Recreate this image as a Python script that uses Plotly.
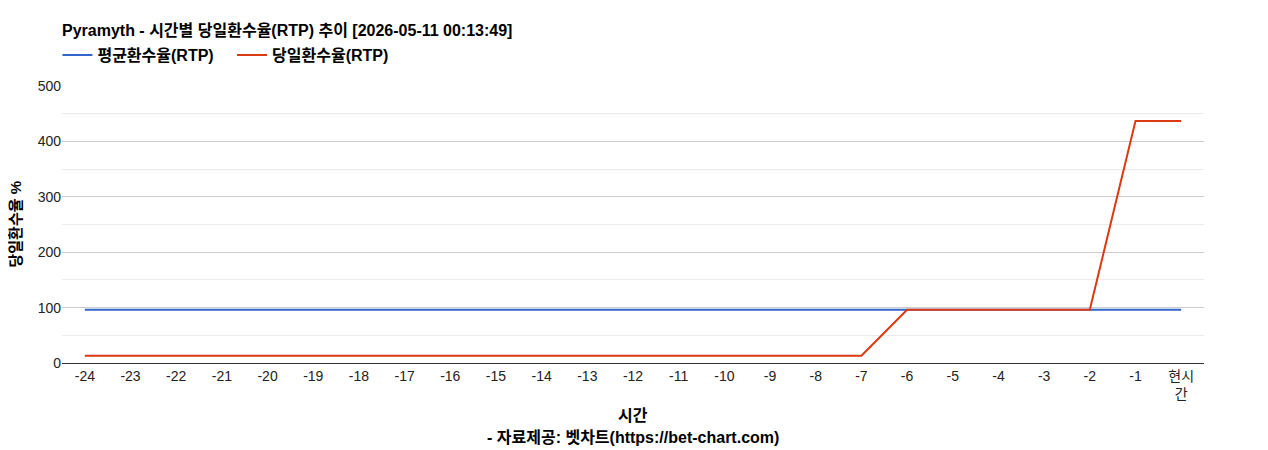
import plotly.graph_objects as go

hours = ["-24", "-23", "-22", "-21", "-20", "-19", "-18", "-17", "-16", "-15",
         "-14", "-13", "-12", "-11", "-10", "-9", "-8", "-7", "-6", "-5",
         "-4", "-3", "-2", "-1", "현시간"]
hour_labels = hours[:-1] + ["현시<br>간"]

avg_rtp = [96] * 25
day_rtp = [13, 13, 13, 13, 13, 13, 13, 13, 13, 13,
           13, 13, 13, 13, 13, 13, 13, 13, 96, 96,
           96, 96, 96, 437, 437]

y_ticks = [0, 100, 200, 300, 400, 500]

FONT = "Arial, Liberation Sans, Noto Sans CJK KR, sans-serif"

# plot area in page pixels (page has an 8px body margin)
L, T, R, B = 54, 78, 72, 95
PH = 450 - T - B
PW = 1268 - L - R

fig = go.Figure()
fig.add_trace(go.Scatter(x=hours, y=avg_rtp, mode="lines",
                         name="<b>평균환수율(RTP)</b>&nbsp;&nbsp;&nbsp;",
                         line=dict(color="#3366cc", width=2)))
fig.add_trace(go.Scatter(x=hours, y=day_rtp, mode="lines", name="<b>당일환수율(RTP)</b>",
                         line=dict(color="#dc3912", width=2)))

fig.update_layout(
    width=1268, height=450,
    margin=dict(l=L, r=R, t=T, b=B),
    paper_bgcolor="white", plot_bgcolor="white",
    font=dict(family=FONT, size=14, color="#222"),
    title=dict(text="<b>Pyramyth - 시간별 당일환수율(RTP) 추이 [2026-05-11 00:13:49]</b>",
               x=L / 1268, xanchor="left", y=1 - 22 / 450, yanchor="middle",
               font=dict(size=16, color="#000")),
    legend=dict(orientation="h", x=-0.004, xanchor="left",
                y=1 + 31 / PH, yanchor="middle",
                font=dict(size=16, color="#000"), itemwidth=30,
                bgcolor="rgba(0,0,0,0)"),
    showlegend=True,
    annotations=[
        dict(text="<b>시간</b>", xref="paper", yref="paper", x=0.5, y=-52 / PH,
             xanchor="center", yanchor="middle", showarrow=False,
             font=dict(size=16, color="#000")),
        dict(text="<b>- 자료제공: 벳차트(https://bet-chart.com)</b>", xref="paper",
             yref="paper", x=0.5, y=-74 / PH, xanchor="center", yanchor="middle",
             showarrow=False, font=dict(size=16, color="#000")),
        dict(text="<b>당일환수율 %</b>", xref="paper", yref="paper", x=-47 / PW,
             y=0.5, xanchor="center", yanchor="middle", textangle=-90,
             showarrow=False, font=dict(size=15, color="#000")),
    ],
)
fig.update_xaxes(
    type="category", categoryorder="array", categoryarray=hours,
    range=[-0.5, 24.5], tickvals=hours, ticktext=hour_labels,
    showgrid=False, showline=True, linecolor="#333", linewidth=1,
    ticks="", tickfont=dict(size=14, color="#222"),
)
fig.update_yaxes(
    range=[0, 500], tickvals=y_ticks, showgrid=True, gridcolor="#cccccc",
    zeroline=True, zerolinecolor="#333", zerolinewidth=1,
    minor=dict(dtick=50, showgrid=True, gridcolor="#ebebeb", tick0=0),
    tickfont=dict(size=14, color="#222"), ticks="",
)

fig.write_html("out.html")
